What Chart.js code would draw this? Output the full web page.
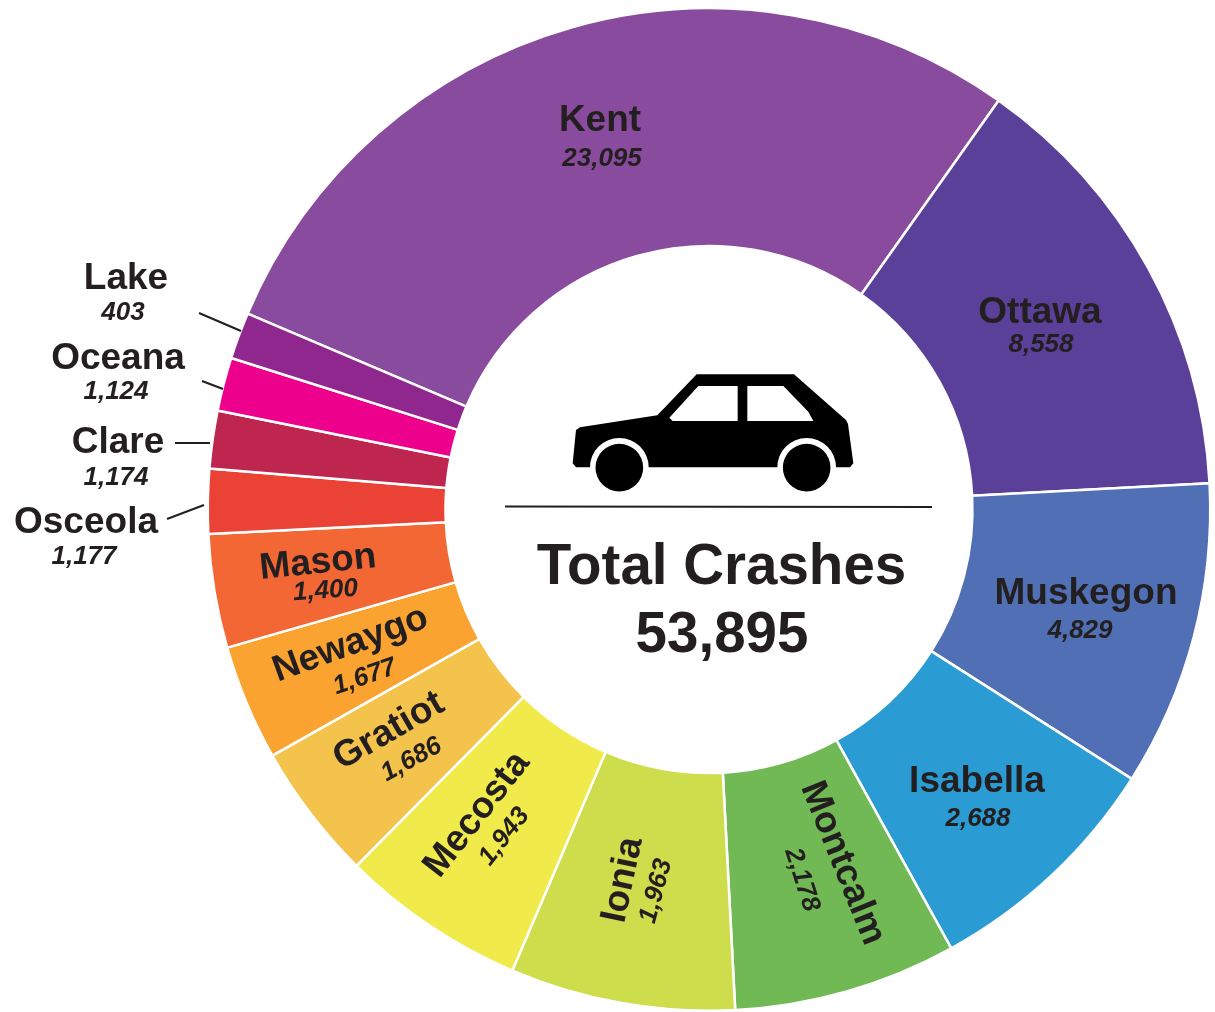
<!DOCTYPE html>
<html lang="en">
<head>
<meta charset="utf-8">
<title>Total Crashes</title>
<script src="https://cdn.jsdelivr.net/npm/chart.js@4"></script>
<style>
    html, body { margin: 0; padding: 0; background: #fff; }
    canvas { display: block; }
</style>
</head>
<body>
<canvas id="crashChart" width="1215" height="1012"></canvas>
<script>
"use strict";

const counties = ['Kent', 'Ottawa', 'Muskegon', 'Isabella', 'Montcalm', 'Ionia', 'Mecosta',
    'Gratiot', 'Newaygo', 'Mason', 'Osceola', 'Clare', 'Oceana', 'Lake'];

// the numbers printed in the picture
const crashes = ['23,095', '8,558', '4,829', '2,688', '2,178', '1,963', '1,943',
    '1,686', '1,677', '1,400', '1,177', '1,174', '1,124', '403'];

// slice sizes in degrees, the drawn slices are not
// proportional to the printed numbers
const sliceDegrees = [102.3, 51.7, 35.5, 28.6, 25.9, 26.1, 21.6, 15.9, 13.4, 13.2, 7.5, 6.7, 6.2, 5.4];

const sliceColors = ['#894b9d', '#5a4099', '#516fb4', '#2b9cd3', '#71b954', '#cedd4b', '#f0ea4a',
    '#f4c34c', '#fba330', '#f36735', '#ea4335', '#be254f', '#ec008c', '#90278e'];

const totalTitle = 'Total Crashes';
const totalValue = '53,895';

// text placement per county: [name x, name y, value x, value y, name angle, value angle]
const labelSpots = [
    [600, 131, 602, 166, 0, 0],
    [1040, 323, 1041, 352, 0, 0],
    [1086, 604, 1080, 638, 0, 0],
    [977, 792, 978, 826, 0, 0],
    [833, 867, 795, 882, 68, 72],
    [633, 882, 663, 893, -78, -75],
    [485, 821, 510, 841, -52, -52],
    [394, 740, 415, 766, -30, -29],
    [354, 654, 367, 684, -20, -19],
    [319, 573, 326, 598, -6, -4],
    [86, 533, 84, 564, 0, 0],
    [118, 453, 116, 485, 0, 0],
    [118, 369, 116, 399, 0, 0],
    [126, 289, 123, 320, 0, 0]
];

const leaderLines = [
    [199, 313, 241, 331],
    [202, 381, 223, 389],
    [175, 443, 210, 443],
    [167, 519, 204, 505]
];

const textColor = '#231f20';

/**
 * Ritar en text, eventuellt roterad
 */
function drawText(ctx, text, x, y, angle, font) {
    ctx.save();
    ctx.translate(x, y);
    ctx.rotate(angle * Math.PI / 180);
    ctx.font = font;
    ctx.fillStyle = textColor;
    ctx.textAlign = 'center';
    ctx.textBaseline = 'alphabetic';
    ctx.fillText(text, 0, 0);
    ctx.restore();
}

/**
 * Car icon, drawn in zoomed coordinates and scaled down
 */
function drawCar(ctx) {
    ctx.save();
    ctx.translate(540, 350);
    ctx.scale(1 / 3, 1 / 3);
    ctx.fillStyle = '#000';

    ctx.beginPath();
    ctx.moveTo(120, 232);
    ctx.lineTo(352, 196);
    ctx.lineTo(470, 73);
    ctx.lineTo(762, 73);
    ctx.lineTo(918, 210);
    ctx.lineTo(924, 222);
    ctx.lineTo(940, 340);
    ctx.lineTo(930, 352);
    ctx.lineTo(888, 352);
    ctx.arc(800, 352, 88, 0, Math.PI, true);
    ctx.lineTo(326, 352);
    ctx.arc(238, 352, 88, 0, Math.PI, true);
    ctx.lineTo(108, 352);
    ctx.lineTo(98, 340);
    ctx.lineTo(108, 240);
    ctx.closePath();
    ctx.fill();

    ctx.fillStyle = '#fff';
    ctx.beginPath();
    ctx.moveTo(475, 108);
    ctx.lineTo(593, 108);
    ctx.lineTo(593, 213);
    ctx.lineTo(398, 213);
    ctx.lineTo(388, 203);
    ctx.closePath();
    ctx.moveTo(622, 108);
    ctx.lineTo(730, 108);
    ctx.lineTo(805, 185);
    ctx.lineTo(820, 213);
    ctx.lineTo(622, 213);
    ctx.closePath();
    ctx.fill();

    ctx.fillStyle = '#000';
    ctx.beginPath();
    ctx.arc(238, 353, 71.5, 0, Math.PI * 2);
    ctx.moveTo(871.5, 353);
    ctx.arc(800, 353, 71.5, 0, Math.PI * 2);
    ctx.fill();
    ctx.restore();
}

const annotations = {
    id: 'annotations',
    afterDraw(chart) {
        const ctx = chart.ctx;

        counties.forEach((county, i) => {
            const [nx, ny, vx, vy, na, va] = labelSpots[i];
            drawText(ctx, county, nx, ny, na, 'bold 37px "Liberation Sans"');
            drawText(ctx, crashes[i], vx, vy, va, 'italic bold 26px "Liberation Sans"');
        });

        ctx.save();
        ctx.strokeStyle = textColor;
        ctx.lineWidth = 2;
        leaderLines.forEach(([x1, y1, x2, y2]) => {
            ctx.beginPath();
            ctx.moveTo(x1, y1);
            ctx.lineTo(x2, y2);
            ctx.stroke();
        });
        ctx.beginPath();
        ctx.moveTo(505, 506.5);
        ctx.lineTo(932, 507);
        ctx.stroke();
        ctx.restore();

        drawCar(ctx);
        drawText(ctx, totalTitle, 721.5, 584, 0, 'bold 56.5px "Liberation Sans"');
        drawText(ctx, totalValue, 722, 652, 0, 'bold 56.5px "Liberation Sans"');
    }
};

new Chart(document.getElementById('crashChart'), {
    type: 'doughnut',
    data: {
        labels: counties,
        datasets: [{
            data: sliceDegrees,
            backgroundColor: sliceColors,
            borderColor: '#fff',
            borderWidth: 2.5
        }]
    },
    options: {
        responsive: false,
        animation: false,
        rotation: -67,
        cutout: 263.5,
        layout: { padding: { left: 205.5, right: 2.5, top: 7, bottom: -2 } },
        plugins: {
            legend: { display: false },
            tooltip: { enabled: false }
        }
    },
    plugins: [annotations]
});
</script>
</body>
</html>
